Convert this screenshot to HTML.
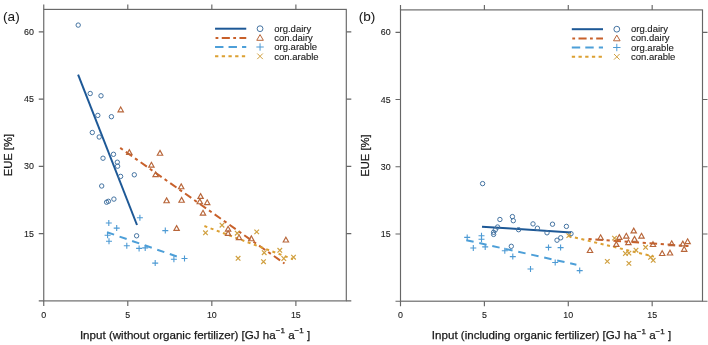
<!DOCTYPE html>
<html><head><meta charset="utf-8"><style>
html,body{margin:0;padding:0;background:#fff;width:708px;height:345px;overflow:hidden}
svg{display:block;filter:blur(0.3px)}
text{font-family:"Liberation Sans",sans-serif;fill:#1a1a1a;stroke:#1a1a1a;stroke-width:0.25px}
.tk{font-size:8.9px;stroke-width:0.1px}
.al{font-size:11.6px}
.yl{font-size:11.2px}
.lg{font-size:9.5px;stroke-width:0.12px}
.pl{font-size:13.6px;stroke-width:0.05px}
</style></head><body>
<svg width="708" height="345" viewBox="0 0 708 345">
<rect width="708" height="345" fill="#fff"/>
<rect x="43.75" y="9.4" width="302.55" height="291.50" fill="none" stroke="#666666" stroke-width="1.15"/>
<path d="M43.75 300.9V305.9M43.75 9.4V4.4M127.79 300.9V305.9M127.79 9.4V4.4M211.83 300.9V305.9M211.83 9.4V4.4M295.88 300.9V305.9M295.88 9.4V4.4M43.75 300.90H38.75M346.30 300.90H351.30M43.75 233.63H38.75M346.30 233.63H351.30M43.75 166.36H38.75M346.30 166.36H351.30M43.75 99.09H38.75M346.30 99.09H351.30M43.75 31.82H38.75M346.30 31.82H351.30" stroke="#666666" stroke-width="1.15" fill="none"/>
<text x="43.75" y="317.9" text-anchor="middle" class="tk">0</text>
<text x="127.79" y="317.9" text-anchor="middle" class="tk">5</text>
<text x="211.83" y="317.9" text-anchor="middle" class="tk">10</text>
<text x="295.88" y="317.9" text-anchor="middle" class="tk">15</text>
<text x="33.95" y="236.63" text-anchor="end" class="tk">15</text>
<text x="33.95" y="169.36" text-anchor="end" class="tk">30</text>
<text x="33.95" y="102.09" text-anchor="end" class="tk">45</text>
<text x="33.95" y="34.82" text-anchor="end" class="tk">60</text>
<text transform="translate(12.05,155.15) rotate(-90)" text-anchor="middle" class="yl">EUE [%]</text>
<text x="195.03" y="338.9" text-anchor="middle" class="al">Input (without organic fertilizer) [GJ ha<tspan dy="-5.5" font-size="8">−1</tspan><tspan dy="5.5"> </tspan>a<tspan dy="-5.5" font-size="8">−1</tspan><tspan dy="5.5"> ]</tspan></text>
<text x="3.1" y="21.1" class="pl">(a)</text>
<line x1="215.05" y1="28.700000000000003" x2="246.25" y2="28.700000000000003" stroke="#1d5896" stroke-width="2"/>
<line x1="215.05" y1="37.9" x2="246.25" y2="37.9" stroke="#c8602a" stroke-width="2" stroke-dasharray="2.8 3.4 8.1 3.4" stroke-dashoffset="-0.5"/>
<line x1="215.05" y1="47.0" x2="246.25" y2="47.0" stroke="#4d9fd8" stroke-width="2" stroke-dasharray="8.4 5.1"/>
<line x1="215.05" y1="56.3" x2="246.25" y2="56.3" stroke="#dca032" stroke-width="2" stroke-dasharray="3.3 3.4"/>
<circle cx="260.05" cy="28.700000000000003" r="2.9" fill="none" stroke="#4574a2" stroke-width="1"/>
<path d="M260.05 34.60L263.35 40.30L256.75 40.30Z" fill="none" stroke="#b8663a" stroke-width="1"/>
<path d="M256.35 47.0H263.75M260.05 43.30V50.70" fill="none" stroke="#4d9ad4" stroke-width="1"/>
<path d="M257.25 53.50L262.85 59.10M257.25 59.10L262.85 53.50" fill="none" stroke="#d0a040" stroke-width="1"/>
<text x="274.25" y="31.60" class="lg">org.dairy</text>
<text x="274.25" y="40.90" class="lg">con.dairy</text>
<text x="274.25" y="50.20" class="lg">org.arable</text>
<text x="274.25" y="59.50" class="lg">con.arable</text>
<line x1="78.1" y1="74.6" x2="137.0" y2="225.0" stroke="#1d5896" stroke-width="2"/><line x1="120.2" y1="147.9" x2="284.5" y2="263.5" stroke="#c8602a" stroke-width="2" stroke-dasharray="3.2 3.7 7.6 3.6"/><line x1="107.0" y1="232.2" x2="176.8" y2="256.5" stroke="#4d9fd8" stroke-width="2" stroke-dasharray="7.5 5.8"/><line x1="204.4" y1="226.0" x2="293.0" y2="259.2" stroke="#dca032" stroke-width="2" stroke-dasharray="3.05 3.55"/>
<g fill="none" stroke="#4574a2" stroke-width="1.0"><circle cx="78.2" cy="25.1" r="2.2"/>
<circle cx="90.2" cy="93.5" r="2.2"/>
<circle cx="101.0" cy="95.8" r="2.2"/>
<circle cx="97.8" cy="115.4" r="2.2"/>
<circle cx="111.4" cy="116.7" r="2.2"/>
<circle cx="92.3" cy="132.5" r="2.2"/>
<circle cx="99.2" cy="137.0" r="2.2"/>
<circle cx="113.5" cy="154.3" r="2.2"/>
<circle cx="103.0" cy="158.2" r="2.2"/>
<circle cx="117.3" cy="162.2" r="2.2"/>
<circle cx="117.6" cy="166.2" r="2.2"/>
<circle cx="120.6" cy="176.4" r="2.2"/>
<circle cx="101.7" cy="186.0" r="2.2"/>
<circle cx="106.6" cy="202.2" r="2.2"/>
<circle cx="108.4" cy="201.3" r="2.2"/>
<circle cx="113.9" cy="199.1" r="2.2"/>
<circle cx="136.6" cy="235.8" r="2.2"/>
<circle cx="134.3" cy="174.8" r="2.2"/></g>
<g fill="none" stroke="#b8663a" stroke-width="1.15"><path d="M120.70 107.00L123.40 111.80L118.00 111.80Z"/>
<path d="M129.30 149.60L132.00 154.40L126.60 154.40Z"/>
<path d="M160.00 150.40L162.70 155.20L157.30 155.20Z"/>
<path d="M151.40 162.30L154.10 167.10L148.70 167.10Z"/>
<path d="M155.60 171.80L158.30 176.60L152.90 176.60Z"/>
<path d="M181.20 183.90L183.90 188.70L178.50 188.70Z"/>
<path d="M166.60 197.90L169.30 202.70L163.90 202.70Z"/>
<path d="M181.60 197.40L184.30 202.20L178.90 202.20Z"/>
<path d="M200.60 193.60L203.30 198.40L197.90 198.40Z"/>
<path d="M199.80 198.90L202.50 203.70L197.10 203.70Z"/>
<path d="M207.20 199.80L209.90 204.60L204.50 204.60Z"/>
<path d="M203.00 210.30L205.70 215.10L200.30 215.10Z"/>
<path d="M176.60 225.60L179.30 230.40L173.90 230.40Z"/>
<path d="M228.10 226.30L230.80 231.10L225.40 231.10Z"/>
<path d="M228.10 230.60L230.80 235.40L225.40 235.40Z"/>
<path d="M239.00 234.80L241.70 239.60L236.30 239.60Z"/>
<path d="M251.30 235.90L254.00 240.70L248.60 240.70Z"/>
<path d="M285.90 237.20L288.60 242.00L283.20 242.00Z"/></g>
<g fill="none" stroke="#4d9ad4" stroke-width="1.1"><path d="M105.80 223.0H111.80M108.8 220.00V226.00"/>
<path d="M113.70 228.1H119.70M116.7 225.10V231.10"/>
<path d="M104.60 235.2H110.60M107.6 232.20V238.20"/>
<path d="M106.00 241.3H112.00M109.0 238.30V244.30"/>
<path d="M123.80 245.7H129.80M126.8 242.70V248.70"/>
<path d="M136.90 217.8H142.90M139.9 214.80V220.80"/>
<path d="M136.10 248.4H142.10M139.1 245.40V251.40"/>
<path d="M142.20 247.9H148.20M145.2 244.90V250.90"/>
<path d="M152.20 263.1H158.20M155.2 260.10V266.10"/>
<path d="M162.30 230.6H168.30M165.3 227.60V233.60"/>
<path d="M170.90 259.3H176.90M173.9 256.30V262.30"/>
<path d="M181.50 258.5H187.50M184.5 255.50V261.50"/></g>
<g fill="none" stroke="#d0a040" stroke-width="1.2"><path d="M203.20 230.50L207.80 235.10M203.20 235.10L207.80 230.50"/>
<path d="M219.70 222.90L224.30 227.50M219.70 227.50L224.30 222.90"/>
<path d="M234.90 230.90L239.50 235.50M234.90 235.50L239.50 230.90"/>
<path d="M235.80 256.00L240.40 260.60M235.80 260.60L240.40 256.00"/>
<path d="M254.40 229.60L259.00 234.20M254.40 234.20L259.00 229.60"/>
<path d="M261.90 250.40L266.50 255.00M261.90 255.00L266.50 250.40"/>
<path d="M261.20 259.40L265.80 264.00M261.20 264.00L265.80 259.40"/>
<path d="M277.50 248.00L282.10 252.60M277.50 252.60L282.10 248.00"/>
<path d="M281.50 256.20L286.10 260.80M281.50 260.80L286.10 256.20"/>
<path d="M291.20 254.90L295.80 259.50M291.20 259.50L295.80 254.90"/></g>
<rect x="400.5" y="9.9" width="302.00" height="291.30" fill="none" stroke="#666666" stroke-width="1.15"/>
<path d="M400.50 301.2V306.2M400.50 9.9V4.9M484.39 301.2V306.2M484.39 9.9V4.9M568.28 301.2V306.2M568.28 9.9V4.9M652.17 301.2V306.2M652.17 9.9V4.9M400.5 301.20H395.5M702.50 301.20H707.50M400.5 233.98H395.5M702.50 233.98H707.50M400.5 166.75H395.5M702.50 166.75H707.50M400.5 99.53H395.5M702.50 99.53H707.50M400.5 32.31H395.5M702.50 32.31H707.50" stroke="#666666" stroke-width="1.15" fill="none"/>
<text x="400.50" y="318.2" text-anchor="middle" class="tk">0</text>
<text x="484.39" y="318.2" text-anchor="middle" class="tk">5</text>
<text x="568.28" y="318.2" text-anchor="middle" class="tk">10</text>
<text x="652.17" y="318.2" text-anchor="middle" class="tk">15</text>
<text x="390.70" y="236.98" text-anchor="end" class="tk">15</text>
<text x="390.70" y="169.75" text-anchor="end" class="tk">30</text>
<text x="390.70" y="102.53" text-anchor="end" class="tk">45</text>
<text x="390.70" y="35.31" text-anchor="end" class="tk">60</text>
<text transform="translate(368.80,155.55) rotate(-90)" text-anchor="middle" class="yl">EUE [%]</text>
<text x="551.50" y="339.2" text-anchor="middle" class="al">Input (including organic fertilizer) [GJ ha<tspan dy="-5.5" font-size="8">−1</tspan><tspan dy="5.5"> </tspan>a<tspan dy="-5.5" font-size="8">−1</tspan><tspan dy="5.5"> ]</tspan></text>
<text x="358.7" y="21.1" class="pl">(b)</text>
<line x1="571.8" y1="29.200000000000003" x2="603.0" y2="29.200000000000003" stroke="#1d5896" stroke-width="2"/>
<line x1="571.8" y1="38.4" x2="603.0" y2="38.4" stroke="#c8602a" stroke-width="2" stroke-dasharray="2.8 3.4 8.1 3.4" stroke-dashoffset="-0.5"/>
<line x1="571.8" y1="47.5" x2="603.0" y2="47.5" stroke="#4d9fd8" stroke-width="2" stroke-dasharray="8.4 5.1"/>
<line x1="571.8" y1="56.8" x2="603.0" y2="56.8" stroke="#dca032" stroke-width="2" stroke-dasharray="3.3 3.4"/>
<circle cx="616.8" cy="29.200000000000003" r="2.9" fill="none" stroke="#4574a2" stroke-width="1"/>
<path d="M616.8 35.10L620.10 40.80L613.50 40.80Z" fill="none" stroke="#b8663a" stroke-width="1"/>
<path d="M613.10 47.5H620.50M616.8 43.80V51.20" fill="none" stroke="#4d9ad4" stroke-width="1"/>
<path d="M614.00 54.00L619.60 59.60M614.00 59.60L619.60 54.00" fill="none" stroke="#d0a040" stroke-width="1"/>
<text x="631.00" y="32.10" class="lg">org.dairy</text>
<text x="631.00" y="41.40" class="lg">con.dairy</text>
<text x="631.00" y="50.70" class="lg">org.arable</text>
<text x="631.00" y="60.00" class="lg">con.arable</text>
<line x1="482.0" y1="226.8" x2="571.1" y2="232.4" stroke="#1d5896" stroke-width="2"/><line x1="588.5" y1="238.9" x2="688.5" y2="246.1" stroke="#c8602a" stroke-width="2" stroke-dasharray="3.2 3.7 7.6 3.6"/><line x1="466.3" y1="240.2" x2="576.4" y2="264.7" stroke="#4d9fd8" stroke-width="2" stroke-dasharray="7.5 5.8"/><line x1="568.5" y1="236.0" x2="654.0" y2="256.6" stroke="#dca032" stroke-width="2" stroke-dasharray="3.05 3.55"/>
<g fill="none" stroke="#4574a2" stroke-width="1.0"><circle cx="482.6" cy="183.6" r="2.2"/>
<circle cx="499.9" cy="219.5" r="2.2"/>
<circle cx="512.4" cy="216.6" r="2.2"/>
<circle cx="513.3" cy="220.7" r="2.2"/>
<circle cx="497.6" cy="227.0" r="2.2"/>
<circle cx="495.3" cy="229.9" r="2.2"/>
<circle cx="493.6" cy="232.3" r="2.2"/>
<circle cx="493.6" cy="234.4" r="2.2"/>
<circle cx="511.3" cy="246.3" r="2.2"/>
<circle cx="518.6" cy="229.7" r="2.2"/>
<circle cx="533.0" cy="223.9" r="2.2"/>
<circle cx="537.4" cy="228.2" r="2.2"/>
<circle cx="552.5" cy="224.2" r="2.2"/>
<circle cx="547.0" cy="232.8" r="2.2"/>
<circle cx="566.4" cy="226.4" r="2.2"/>
<circle cx="560.7" cy="237.8" r="2.2"/>
<circle cx="557.0" cy="240.2" r="2.2"/>
<circle cx="571.0" cy="233.7" r="2.2"/></g>
<g fill="none" stroke="#b8663a" stroke-width="1.15"><path d="M590.00 247.70L592.70 252.50L587.30 252.50Z"/>
<path d="M600.60 234.80L603.30 239.60L597.90 239.60Z"/>
<path d="M619.30 234.60L622.00 239.40L616.60 239.40Z"/>
<path d="M626.30 233.30L629.00 238.10L623.60 238.10Z"/>
<path d="M633.70 228.10L636.40 232.90L631.00 232.90Z"/>
<path d="M641.50 233.30L644.20 238.10L638.80 238.10Z"/>
<path d="M634.50 236.40L637.20 241.20L631.80 241.20Z"/>
<path d="M616.30 241.60L619.00 246.40L613.60 246.40Z"/>
<path d="M628.40 239.80L631.10 244.60L625.70 244.60Z"/>
<path d="M653.00 241.70L655.70 246.50L650.30 246.50Z"/>
<path d="M662.20 250.70L664.90 255.50L659.50 255.50Z"/>
<path d="M670.00 250.20L672.70 255.00L667.30 255.00Z"/>
<path d="M671.70 240.80L674.40 245.60L669.00 245.60Z"/>
<path d="M682.80 241.10L685.50 245.90L680.10 245.90Z"/>
<path d="M687.60 238.80L690.30 243.60L684.90 243.60Z"/>
<path d="M684.20 246.50L686.90 251.30L681.50 251.30Z"/></g>
<g fill="none" stroke="#4d9ad4" stroke-width="1.1"><path d="M464.20 237.4H470.20M467.2 234.40V240.40"/>
<path d="M478.50 235.8H484.50M481.5 232.80V238.80"/>
<path d="M478.50 239.3H484.50M481.5 236.30V242.30"/>
<path d="M470.30 248.0H476.30M473.3 245.00V251.00"/>
<path d="M482.20 246.9H488.20M485.2 243.90V249.90"/>
<path d="M501.80 250.8H507.80M504.8 247.80V253.80"/>
<path d="M509.80 256.6H515.80M512.8 253.60V259.60"/>
<path d="M527.50 269.0H533.50M530.5 266.00V272.00"/>
<path d="M545.50 247.4H551.50M548.5 244.40V250.40"/>
<path d="M557.60 247.6H563.60M560.6 244.60V250.60"/>
<path d="M552.20 262.5H558.20M555.2 259.50V265.50"/>
<path d="M576.70 270.6H582.70M579.7 267.60V273.60"/></g>
<g fill="none" stroke="#d0a040" stroke-width="1.2"><path d="M566.50 233.30L571.10 237.90M566.50 237.90L571.10 233.30"/>
<path d="M605.00 259.10L609.60 263.70M605.00 263.70L609.60 259.10"/>
<path d="M612.20 235.80L616.80 240.40M612.20 240.40L616.80 235.80"/>
<path d="M623.10 251.20L627.70 255.80M623.10 255.80L627.70 251.20"/>
<path d="M626.60 250.80L631.20 255.40M626.60 255.40L631.20 250.80"/>
<path d="M626.60 261.10L631.20 265.70M626.60 265.70L631.20 261.10"/>
<path d="M633.70 247.90L638.30 252.50M633.70 252.50L638.30 247.90"/>
<path d="M643.30 245.00L647.90 249.60M643.30 249.60L647.90 245.00"/>
<path d="M648.30 255.00L652.90 259.60M648.30 259.60L652.90 255.00"/>
<path d="M650.90 258.00L655.50 262.60M650.90 262.60L655.50 258.00"/></g>
</svg>
</body></html>
